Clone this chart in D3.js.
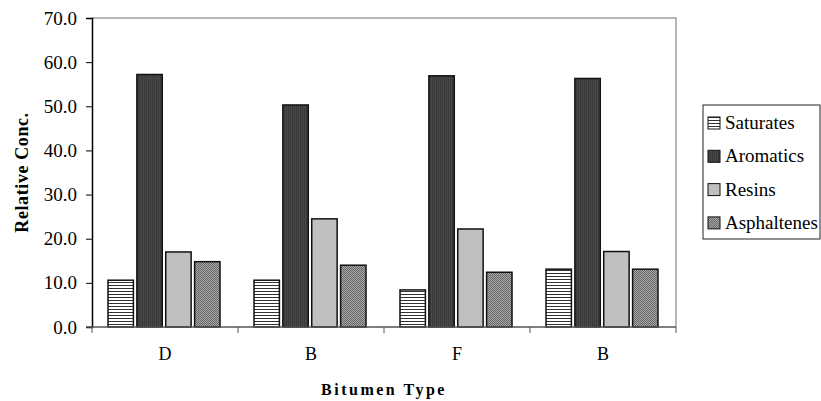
<!DOCTYPE html>
<html>
<head>
<meta charset="utf-8">
<script src="https://cdn.jsdelivr.net/npm/d3@7"></script>
<style>
  body { margin: 0; background: #fff; }
  svg { display: block; }
  text { font-family: "Liberation Serif", "DejaVu Serif", serif; fill: #000; }
</style>
</head>
<body>
<svg width="821" height="401"></svg>
<script>
// chart values
const bitumenTypes = ["D", "B", "F", "B"];
const seriesNames = ["Saturates", "Aromatics", "Resins", "Asphaltenes"];
const saturates = [10.6, 10.6, 8.4, 13.1];
const aromatics = [57.2, 50.3, 56.9, 56.3];
const resins = [17.0, 24.5, 22.2, 17.1];
const asphaltenes = [14.8, 14.0, 12.4, 13.1];
const yTicks = [0, 10, 20, 30, 40, 50, 60, 70];

const plot = { left: 92, right: 676, top: 18, bottom: 327 };
const SERIF = "Liberation Serif";

const svg = d3.select("svg");

// fill patterns like the old black and white excel chart
const defs = svg.append("defs");

let p = defs.append("pattern").attr("id", "patSat")
  .attr("patternUnits", "userSpaceOnUse").attr("width", 4).attr("height", 3);
p.append("rect").attr("width", 4).attr("height", 3).attr("fill", "#fff");
p.append("rect").attr("width", 4).attr("height", 1).attr("fill", "#333");

p = defs.append("pattern").attr("id", "patAro")
  .attr("patternUnits", "userSpaceOnUse").attr("width", 2).attr("height", 2);
p.append("rect").attr("width", 2).attr("height", 2).attr("fill", "#474747");
p.append("rect").attr("width", 1).attr("height", 2).attr("fill", "#3a3a3a");

p = defs.append("pattern").attr("id", "patAsp")
  .attr("patternUnits", "userSpaceOnUse").attr("width", 2).attr("height", 2);
p.append("rect").attr("width", 2).attr("height", 2).attr("fill", "#a8a8a8");
p.append("rect").attr("width", 1).attr("height", 1).attr("fill", "#666");
p.append("rect").attr("x", 1).attr("y", 1).attr("width", 1).attr("height", 1).attr("fill", "#666");

const fills = ["url(#patSat)", "url(#patAro)", "#c0c0c0", "url(#patAsp)"];

const allSeries = [saturates, aromatics, resins, asphaltenes];

const x = d3.scaleBand()
  .domain(d3.range(bitumenTypes.length))
  .range([plot.left, plot.right]);

const xInner = d3.scaleBand()
  .domain(seriesNames)
  .range([16, x.bandwidth() - 18])
  .paddingInner(0.12);

const y = d3.scaleLinear()
  .domain([0, 70])
  .range([plot.bottom, plot.top]);

// plot frame: top and right edges are light gray
svg.append("path")
  .attr("d", `M${plot.left},${plot.top}H${plot.right}V${plot.bottom}`)
  .attr("fill", "none")
  .attr("stroke", "#a0a0a0")
  .attr("stroke-width", 1.5);

// bars
const groups = svg.append("g")
  .selectAll("g")
  .data(bitumenTypes.map((t, i) => i))
  .enter()
  .append("g")
  .attr("transform", (i) => `translate(${x(i)},0)`);

groups.selectAll("rect")
  .data((i) => seriesNames.map((s, k) => ({ name: s, k: k, v: allSeries[k][i] })))
  .enter()
  .append("rect")
  .attr("x", (d) => xInner(d.name))
  .attr("width", xInner.bandwidth())
  .attr("y", (d) => y(d.v))
  .attr("height", (d) => y(0) - y(d.v))
  .attr("fill", (d) => fills[d.k])
  .attr("stroke", "#111")
  .attr("stroke-width", 1.5);

// y axis
const yAxis = d3.axisLeft(y)
  .tickValues(yTicks)
  .tickFormat(d3.format(".1f"))
  .tickSize(6)
  .tickPadding(9);

const gy = svg.append("g")
  .attr("transform", `translate(${plot.left},0)`)
  .call(yAxis);
gy.select(".domain").attr("stroke", "#000").attr("stroke-width", 1.5);
gy.selectAll(".tick line").attr("stroke", "#000");
gy.selectAll(".tick text")
  .attr("font-family", SERIF)
  .attr("font-size", 19)
  .attr("fill", "#000");

// x axis: ticks at the category edges
const gx = svg.append("g").attr("transform", `translate(0,${plot.bottom})`);
gx.append("line")
  .attr("x1", plot.left - 6).attr("x2", plot.right)
  .attr("stroke", "#555").attr("stroke-width", 1.5);
gx.selectAll(".edge")
  .data(d3.range(bitumenTypes.length + 1))
  .enter()
  .append("line")
  .attr("class", "edge")
  .attr("x1", (i) => plot.left + i * x.step())
  .attr("x2", (i) => plot.left + i * x.step())
  .attr("y1", 0).attr("y2", 6)
  .attr("stroke", "#555");
gx.selectAll("text")
  .data(bitumenTypes)
  .enter()
  .append("text")
  .attr("x", (d, i) => x(i) + x.bandwidth() / 2)
  .attr("y", 33)
  .attr("text-anchor", "middle")
  .attr("font-family", SERIF)
  .attr("font-size", 18)
  .text((d) => d);

// axis titles
svg.append("text")
  .attr("transform", `translate(28,${(plot.top + plot.bottom) / 2}) rotate(-90)`)
  .attr("text-anchor", "middle")
  .attr("font-family", SERIF)
  .attr("font-size", 18)
  .attr("font-weight", "bold")
  .attr("letter-spacing", 0.6)
  .text("Relative Conc.");

svg.append("text")
  .attr("x", (plot.left + plot.right) / 2)
  .attr("y", 395)
  .attr("text-anchor", "middle")
  .attr("font-family", SERIF)
  .attr("font-size", 16)
  .attr("font-weight", "bold")
  .attr("letter-spacing", 2.5)
  .text("Bitumen Type");

// legend
const legend = svg.append("g");
legend.append("rect")
  .attr("x", 703).attr("y", 105)
  .attr("width", 117).attr("height", 134)
  .attr("fill", "#fff")
  .attr("stroke", "#222")
  .attr("stroke-width", 1);

const items = legend.selectAll("g.item")
  .data(seriesNames)
  .enter()
  .append("g")
  .attr("class", "item")
  .attr("transform", (d, i) => `translate(708,${117 + i * 33.3})`);
items.append("rect")
  .attr("width", 12).attr("height", 12)
  .attr("fill", (d, i) => fills[i])
  .attr("stroke", "#111")
  .attr("stroke-width", 1);
items.append("text")
  .attr("x", 17).attr("y", 12)
  .attr("font-family", SERIF)
  .attr("font-size", 19)
  .text((d) => d);
</script>
</body>
</html>
